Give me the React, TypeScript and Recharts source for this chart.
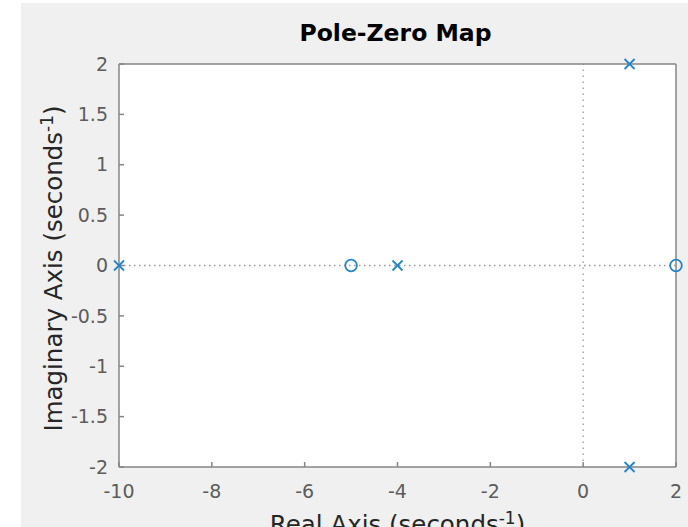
import React from 'react'
import {
  ScatterChart,
  Scatter,
  XAxis,
  YAxis,
  CartesianGrid,
  ReferenceLine,
} from 'recharts'

// pole / zero locations
const poleRe = [-10, -4, 1, 1]
const poleIm = [0, 0, 2, -2]
const zeroRe = [-5, 2]
const zeroIm = [0, 0]

const xTicks = [-10, -8, -6, -4, -2, 0, 2]
const yTicks = [-2, -1.5, -1, -0.5, 0, 0.5, 1, 1.5, 2]

const poles = poleRe.map((re, i) => ({ re, im: poleIm[i] }))
const zeros = zeroRe.map((re, i) => ({ re, im: zeroIm[i] }))

const FONT = '"DejaVu Sans", sans-serif'
const BLUE = '#2484c8'
const AXIS = '#868686'
const TICK_TEXT = '#5c5c5c'

function Cross(props: any) {
  const { cx, cy } = props
  const r = 5
  return (
    <g stroke={BLUE} strokeWidth={1.8}>
      <line x1={cx - r} y1={cy - r} x2={cx + r} y2={cy + r} />
      <line x1={cx - r} y1={cy + r} x2={cx + r} y2={cy - r} />
    </g>
  )
}

function Ring(props: any) {
  const { cx, cy } = props
  return <circle cx={cx} cy={cy} r={5.8} fill="none" stroke={BLUE} strokeWidth={1.8} />
}

function Nothing() {
  return <g />
}

function TitleLabel(props: any) {
  const vb = props.viewBox
  return (
    <text
      x={vb.x + vb.width / 2 - 2}
      y={41}
      textAnchor="middle"
      fontFamily={FONT}
      fontWeight="bold"
      fontSize={23.5}
      fill="#000"
    >
      Pole-Zero Map
    </text>
  )
}

function XLabel(props: any) {
  const vb = props.viewBox
  return (
    <text
      x={vb.x + vb.width / 2}
      y={533}
      textAnchor="middle"
      fontFamily={FONT}
      fontSize={24.5}
      fill="#262626"
    >
      <tspan>Real Axis (seconds</tspan>
      <tspan dy={-9} fontSize={17}>-1</tspan>
      <tspan dy={9}>)</tspan>
    </text>
  )
}

function YLabel(props: any) {
  const vb = props.viewBox
  const x = 62
  const y = vb.y + vb.height / 2 + 3
  return (
    <text
      x={x}
      y={y}
      transform={`rotate(-90, ${x}, ${y})`}
      textAnchor="middle"
      fontFamily={FONT}
      fontSize={24.5}
      fill="#262626"
    >
      <tspan>Imaginary Axis (seconds</tspan>
      <tspan dy={-9} fontSize={17}>-1</tspan>
      <tspan dy={9}>)</tspan>
    </text>
  )
}

export default function App() {
  const tickStyle = { fontFamily: FONT, fontSize: 19, fill: TICK_TEXT }
  const lineStyle = { stroke: AXIS, strokeWidth: 1.5 }
  return (
    <div
      style={{
        position: 'absolute',
        left: 0,
        top: 0,
        width: 688,
        height: 527,
        background: '#fff',
        overflow: 'hidden',
      }}
    >
      <div
        style={{
          position: 'absolute',
          left: 21,
          top: 3,
          right: 0,
          bottom: 0,
          background: '#f0f0f0',
        }}
      />
      <div style={{ position: 'absolute', left: 0, top: 0 }}>
        <ScatterChart
          width={688}
          height={527}
          margin={{ top: 63, right: 11, bottom: 59, left: 118 }}
        >
          <CartesianGrid horizontal={false} vertical={false} fill="#fff" xAxisId="b" yAxisId="l" />
          <XAxis
            xAxisId="b"
            dataKey="re"
            type="number"
            domain={[-10, 2]}
            ticks={xTicks}
            height={1}
            tickSize={-5}
            tickMargin={23}
            tick={tickStyle}
            stroke={AXIS}
            axisLine={lineStyle}
            tickLine={lineStyle}
            label={<XLabel />}
          />
          <XAxis
            xAxisId="t"
            orientation="top"
            dataKey="re"
            type="number"
            domain={[-10, 2]}
            ticks={xTicks}
            height={1}
            tickSize={-5}
            tick={false}
            stroke={AXIS}
            axisLine={lineStyle}
            tickLine={lineStyle}
            label={<TitleLabel />}
          />
          <YAxis
            yAxisId="l"
            dataKey="im"
            type="number"
            domain={[-2, 2]}
            ticks={yTicks}
            width={1}
            tickSize={-5}
            tickMargin={16}
            tick={tickStyle}
            stroke={AXIS}
            axisLine={lineStyle}
            tickLine={lineStyle}
            label={<YLabel />}
          />
          <YAxis
            yAxisId="r"
            orientation="right"
            dataKey="im"
            type="number"
            domain={[-2, 2]}
            ticks={yTicks}
            width={1}
            tickSize={-5}
            tick={false}
            stroke={AXIS}
            axisLine={lineStyle}
            tickLine={lineStyle}
          />
          <ReferenceLine
            xAxisId="b"
            yAxisId="l"
            x={0}
            stroke="#999"
            strokeWidth={1.3}
            strokeDasharray="1.5 4.5"
          />
          <ReferenceLine
            xAxisId="b"
            yAxisId="l"
            y={0}
            stroke="#999"
            strokeWidth={1.3}
            strokeDasharray="1.5 3.5"
          />
          <Scatter
            xAxisId="t"
            yAxisId="r"
            data={zeros}
            shape={<Nothing />}
            isAnimationActive={false}
          />
          <Scatter
            xAxisId="b"
            yAxisId="l"
            data={zeros}
            shape={<Ring />}
            isAnimationActive={false}
          />
          <Scatter
            xAxisId="b"
            yAxisId="l"
            data={poles}
            shape={<Cross />}
            isAnimationActive={false}
          />
        </ScatterChart>
      </div>
    </div>
  )
}
